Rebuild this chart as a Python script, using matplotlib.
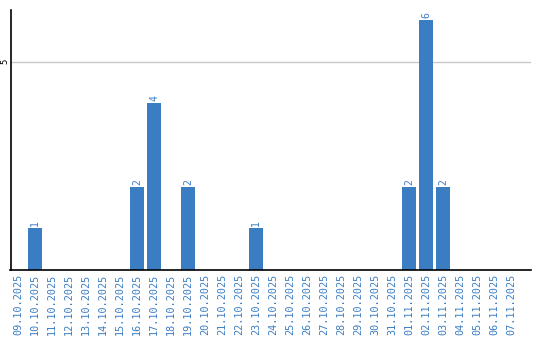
import matplotlib
matplotlib.use("Agg")
import matplotlib.pyplot as plt
import numpy as np

dates = ["09.10.2025", "10.10.2025", "11.10.2025", "12.10.2025", "13.10.2025",
         "14.10.2025", "15.10.2025", "16.10.2025", "17.10.2025", "18.10.2025",
         "19.10.2025", "20.10.2025", "21.10.2025", "22.10.2025", "23.10.2025",
         "24.10.2025", "25.10.2025", "26.10.2025", "27.10.2025", "28.10.2025",
         "29.10.2025", "30.10.2025", "31.10.2025", "01.11.2025", "02.11.2025",
         "03.11.2025", "04.11.2025", "05.11.2025", "06.11.2025", "07.11.2025"]
counts = [0, 1, 0, 0, 0, 0, 0, 2, 4, 0,
          2, 0, 0, 0, 1, 0, 0, 0, 0, 0,
          0, 0, 0, 2, 6, 2, 0, 0, 0, 0]

blue = "#3b7dc3"
W, H = 540, 340
fig = plt.figure(figsize=(W / 100, H / 100), dpi=100)
ax = fig.add_axes([10.5 / W, (H - 270) / H, (531 - 10.5) / W, 260 / H])

x = np.arange(len(dates))
ax.bar(x, counts, width=0.82, color=blue, zorder=2)
for xi, v in zip(x, counts):
    if v > 0:
        ax.text(xi, v + 0.05, str(v), rotation=90, ha="center", va="bottom",
                color=blue, fontsize=7, family="DejaVu Sans Mono")

ax.set_xlim(-0.45, 30.18)
ax.set_ylim(0, 6.24)
ax.set_yticks([5])
ax.set_yticklabels(["5"], rotation=90, va="center", fontsize=6.5,
                   family="DejaVu Sans Mono")
ax.set_xticks(x)
ax.set_xticklabels(dates, rotation=90, fontsize=7.3, color=blue,
                   family="DejaVu Sans Mono")
ax.tick_params(axis="both", length=0, pad=3)
ax.tick_params(axis="y", pad=1)
ax.grid(axis="y", color="#c8c8c8", linewidth=1, zorder=0)
for s in ["top", "right"]:
    ax.spines[s].set_visible(False)
for s in ["left", "bottom"]:
    ax.spines[s].set_color("black")
    ax.spines[s].set_linewidth(1.2)

fig.savefig("out.png", dpi=100)
